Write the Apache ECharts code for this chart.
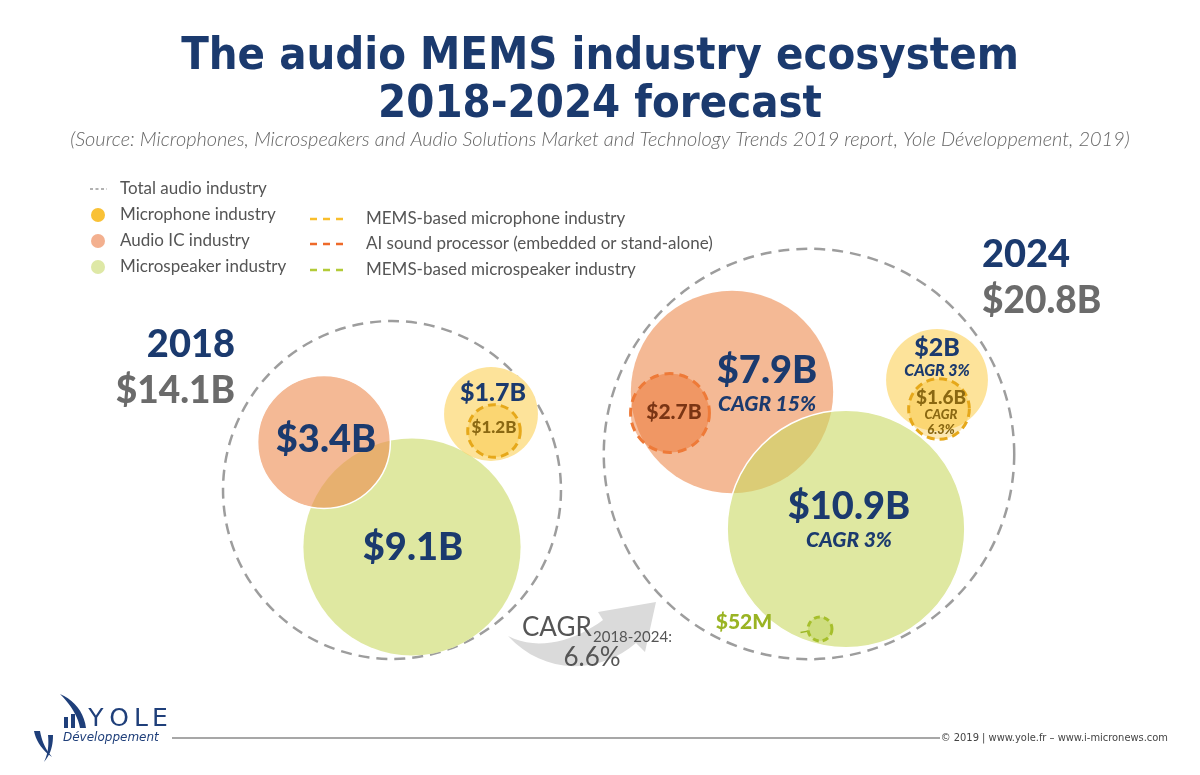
<!DOCTYPE html>
<html><head><meta charset="utf-8">
<script src="https://cdn.jsdelivr.net/npm/echarts@6/dist/echarts.min.js"></script>
<style>html,body{margin:0;padding:0;background:#fff}#chart{width:1200px;height:775px}</style>
</head><body><div id="chart"></div>
<script>
// ---------------- data (US$ billions) ----------------
const years            = ['2018', '2024'];
const totalAudio       = [14.1, 20.8];
const audioIC          = [3.4, 7.9];
const microspeaker     = [9.1, 10.9];
const microphone       = [1.7, 2.0];
const memsMicrophone   = [1.2, 1.6];
const aiSoundProcessor = [null, 2.7];
const memsMicrospeaker = [null, 0.052];
const cagrAudioIC = 15, cagrMicrospeaker = 3, cagrMicrophone = 3, cagrMemsMic = 6.3, cagrTotal = 6.6;

// ---------------- layout (bubble centres in a canvas-sized layout space) ----------------
const centre = {
  total:   [[392, 490], [809, 454]],
  audioIC: [[324, 442], [732, 392]],
  speaker: [[412, 547], [846, 529]],
  mic:     [[491, 414], [937, 380]],
  memsMic: [[494, 431], [939, 409]],
  ai:      [null, [670, 413]],
  memsSpk: [null, [820, 629]]
};
const SCALE = { total: 45, industry: 36, segment: 24 };   // px radius per sqrt($B)
function diam(v, tier) { return 2 * Math.max(12, SCALE[tier] * Math.sqrt(v)); }
function money(v) { return v < 1 ? '$' + Math.round(v * 1000) + 'M' : '$' + (Number.isInteger(v) ? v : v.toFixed(1)) + 'B'; }

const NAVY = '#1b3a6e';
const NUM = 'Lato, "Open Sans", sans-serif';
const TXT = 'Lato, "Open Sans", sans-serif';

function item(name, c, v, tier, style, label) {
  return { name, value: [c[0], c[1], v], symbolSize: diam(v, tier), itemStyle: Object.assign({ opacity: 1 }, style), label };
}
const richNum = {
  big:  { fontFamily: NUM, fontSize: 38, fontWeight: 900, color: NAVY, lineHeight: 36 },
  cg:   { fontFamily: NUM, fontSize: 21, fontWeight: 900, fontStyle: 'italic', color: NAVY, lineHeight: 30 },
  mid:  { fontFamily: NUM, fontSize: 25, fontWeight: 900, color: NAVY, lineHeight: 24 },
  cgs:  { fontFamily: NUM, fontSize: 16, fontWeight: 900, fontStyle: 'italic', color: NAVY, lineHeight: 22 },
  mm:   { fontFamily: NUM, fontSize: 19, fontWeight: 900, color: '#8a6812', lineHeight: 19 },
  mm2:  { fontFamily: NUM, fontSize: 17, fontWeight: 900, color: '#8a6812', lineHeight: 19 },
  mms:  { fontFamily: NUM, fontSize: 13, fontWeight: 900, fontStyle: 'italic', color: '#8a6812', lineHeight: 15 },
  ai:   { fontFamily: NUM, fontSize: 21, fontWeight: 900, color: '#7a3514' },
  sp:   { fontFamily: NUM, fontSize: 21, fontWeight: 900, color: '#9ab424' },
  yr:   { fontFamily: NUM, fontSize: 38, fontWeight: 900, color: NAVY, lineHeight: 46 },
  amt:  { fontFamily: NUM, fontSize: 37, fontWeight: 900, color: '#6b6b6b', lineHeight: 46 }
};
function lbl(text, offset, extra) {
  return Object.assign({ show: true, position: 'inside', formatter: text, offset, rich: richNum }, extra || {});
}

const topBorder = { borderColor: '#ffffff', borderWidth: 1.5 };
const colIC = 'rgba(237,138,79,0.6)', colSpk = 'rgba(202,217,98,0.6)', colMic = 'rgba(252,208,87,0.6)';

const totalsData = years.map((y, i) => item('Total audio industry ' + y, centre.total[i], totalAudio[i], 'total', {},
  lbl('{yr|' + y + '}\n{amt|' + money(totalAudio[i]) + '}', i === 0 ? [-157, -122] : [173, -176], { align: i === 0 ? 'right' : 'left' })));

const industryData = [
  item('Microspeaker 2018', centre.speaker[0], microspeaker[0], 'industry', { color: colSpk },
    lbl('{big|' + money(microspeaker[0]) + '}', [1, 1])),
  item('Audio IC 2018', centre.audioIC[0], audioIC[0], 'industry', Object.assign({ color: colIC }, topBorder),
    lbl('{big|' + money(audioIC[0]) + '}', [2, -2])),
  item('Audio IC 2024', centre.audioIC[1], audioIC[1], 'industry', { color: colIC },
    lbl('{big|' + money(audioIC[1]) + '}\n{cg|CAGR ' + cagrAudioIC + '%}', [35, -6])),
  item('Microspeaker 2024', centre.speaker[1], microspeaker[1], 'industry', Object.assign({ color: colSpk }, topBorder),
    lbl('{big|' + money(microspeaker[1]) + '}\n{cg|CAGR ' + cagrMicrospeaker + '%}', [3, -7])),
  item('Microphone 2018', centre.mic[0], microphone[0], 'industry', { color: colMic },
    lbl('{mid|' + money(microphone[0]) + '}', [2, -21])),
  item('Microphone 2024', centre.mic[1], microphone[1], 'industry', { color: colMic },
    lbl('{mid|' + money(microphone[1]) + '}\n{cgs|CAGR ' + cagrMicrophone + '%}', [0, -21]))
];

const dashW = 3;
const segmentData = [
  item('MEMS microphone 2018', centre.memsMic[0], memsMicrophone[0], 'segment',
    { color: 'rgba(245,190,40,0.35)', borderColor: '#e6a81a', borderWidth: dashW, borderType: [8, 5] },
    lbl('{mm2|' + money(memsMicrophone[0]) + '}', [0, -3])),
  item('MEMS microphone 2024', centre.memsMic[1], memsMicrophone[1], 'segment',
    { color: 'rgba(245,190,40,0.35)', borderColor: '#e6a81a', borderWidth: dashW, borderType: [8, 5] },
    lbl('{mm|' + money(memsMicrophone[1]) + '}\n{mms|CAGR}\n{mms|' + cagrMemsMic + '%}', [2, 4])),
  item('AI sound processor 2024', centre.ai[1], aiSoundProcessor[1], 'segment',
    { color: 'rgba(236,110,40,0.45)', borderColor: '#ee7a38', borderWidth: dashW, borderType: [9, 6] },
    lbl('{ai|' + money(aiSoundProcessor[1]) + '}', [4, -1])),
  item('MEMS microspeaker 2024', centre.memsSpk[1], memsMicrospeaker[1], 'segment',
    { color: 'rgba(170,195,50,0.3)', borderColor: '#a6bf2c', borderWidth: dashW, borderType: [6, 4] },
    lbl('{sp|' + money(memsMicrospeaker[1]) + '}', [-76, -7]))
];
segmentData[3].labelLine = { show: true, lineStyle: { color: '#9ab424', width: 1.5 } };

const backingData = industryData.map(d => ({ value: d.value, symbolSize: d.symbolSize }));

// ---------------- decorations ----------------
function bez(p0, p1, p2, p3, n) {
  const pts = [];
  for (let k = 0; k <= n; k++) {
    const t = k / n, u = 1 - t;
    pts.push([u*u*u*p0[0] + 3*u*u*t*p1[0] + 3*u*t*t*p2[0] + t*t*t*p3[0],
              u*u*u*p0[1] + 3*u*u*t*p1[1] + 3*u*t*t*p2[1] + t*t*t*p3[1]]);
  }
  return pts;
}
const arrowPts = [].concat(
  bez([508, 636], [540, 652], [576, 640], [603, 620], 16),
  [[598, 612], [656, 602], [645, 652]],
  bez([636, 643], [600, 674], [545, 676], [508, 636], 16)
);
const swoosh1 = [].concat(bez([60, 694], [74, 700], [84, 712], [86, 728], 10), bez([80, 728], [78, 716], [70, 704], [60, 694], 10));
const swoosh2 = [].concat(bez([34, 731], [36, 742], [44, 752], [52, 757], 10), bez([52, 757], [46, 750], [42, 742], [40, 731], 10));
const swoosh3 = [].concat(bez([48, 735], [49, 745], [48, 754], [44, 762], 10), bez([44, 762], [51, 754], [53, 745], [53, 735], 10));

const legendTxt = { font: '17px ' + TXT, fill: '#555', verticalAlign: 'middle' };
function gtext(x, y, text, extra) { return { type: 'text', x, y, style: Object.assign({ text }, legendTxt, extra || {}) }; }
const LOGO = '#1f3f7a';
const graphic = [
  { type: 'line', shape: { x1: 90, y1: 189, x2: 107, y2: 189 }, style: { stroke: '#999', lineWidth: 1.5, lineDash: [3, 2.5] } },
  gtext(120, 189, 'Total audio industry'),
  { type: 'circle', shape: { cx: 98, cy: 215, r: 7 }, style: { fill: '#f9c136' } },
  gtext(120, 215, 'Microphone industry'),
  { type: 'circle', shape: { cx: 98, cy: 241, r: 7 }, style: { fill: '#f3b08f' } },
  gtext(120, 241, 'Audio IC industry'),
  { type: 'circle', shape: { cx: 98, cy: 267, r: 7 }, style: { fill: '#dee8a6' } },
  gtext(120, 267, 'Microspeaker industry'),
  { type: 'line', shape: { x1: 310, y1: 219, x2: 346, y2: 219 }, style: { stroke: '#f9be2c', lineWidth: 2.5, lineDash: [7, 6] } },
  gtext(366, 219, 'MEMS-based microphone industry'),
  { type: 'line', shape: { x1: 310, y1: 244, x2: 346, y2: 244 }, style: { stroke: '#ee6a2a', lineWidth: 2.5, lineDash: [7, 6] } },
  gtext(366, 244, 'AI sound processor (embedded or stand-alone)'),
  { type: 'line', shape: { x1: 310, y1: 270, x2: 346, y2: 270 }, style: { stroke: '#b3cb38', lineWidth: 2.5, lineDash: [7, 6] } },
  gtext(366, 270, 'MEMS-based microspeaker industry'),
  // CAGR arrow
  { type: 'polygon', z: 5, shape: { points: arrowPts }, style: { fill: '#dadada' } },
  { type: 'text', z: 6, x: 522, y: 628, style: { text: 'CAGR', font: '26px ' + TXT, fill: '#555', verticalAlign: 'middle' } },
  { type: 'text', z: 6, x: 593, y: 637, style: { text: '2018-2024:', font: '15px ' + TXT, fill: '#555', verticalAlign: 'middle' } },
  { type: 'text', z: 6, x: 592, y: 658, style: { text: cagrTotal + '%', font: '26px ' + TXT, fill: '#555', align: 'center', verticalAlign: 'middle' } },
  // footer
  { type: 'line', shape: { x1: 172, y1: 738, x2: 940, y2: 738 }, style: { stroke: '#8a8a8a', lineWidth: 1.5 } },
  { type: 'text', x: 1168, y: 738, style: { text: '© 2019 | www.yole.fr – www.i-micronews.com', font: '11px "Liberation Sans Narrow", "DejaVu Sans Condensed", sans-serif', fill: '#444', align: 'right', verticalAlign: 'middle' } },
  // logo
  { type: 'polygon', shape: { points: swoosh1 }, style: { fill: LOGO } },
  { type: 'polygon', shape: { points: swoosh2 }, style: { fill: LOGO } },
  { type: 'polygon', shape: { points: swoosh3 }, style: { fill: LOGO } },
  { type: 'rect', shape: { x: 64, y: 717, width: 4, height: 11 }, style: { fill: LOGO } },
  { type: 'rect', shape: { x: 71, y: 714, width: 4, height: 14 }, style: { fill: LOGO } },
  { type: 'text', x: 96, y: 719, style: { text: 'Y', font: '25px "DejaVu Sans", sans-serif', fill: LOGO, align: 'center', verticalAlign: 'middle' } },
  { type: 'text', x: 119, y: 719, style: { text: 'O', font: '25px "DejaVu Sans", sans-serif', fill: LOGO, align: 'center', verticalAlign: 'middle' } },
  { type: 'text', x: 141, y: 719, style: { text: 'L', font: '25px "DejaVu Sans", sans-serif', fill: LOGO, align: 'center', verticalAlign: 'middle' } },
  { type: 'text', x: 160, y: 719, style: { text: 'E', font: '25px "DejaVu Sans", sans-serif', fill: LOGO, align: 'center', verticalAlign: 'middle' } },
  { type: 'text', x: 63, y: 738, style: { text: 'Développement', font: 'italic 12px "DejaVu Sans", sans-serif', fill: LOGO, verticalAlign: 'middle' } }
];

const titleFont = { fontFamily: '"DejaVu Sans Condensed", "DejaVu Sans", sans-serif', fontWeight: 'bold', fontSize: 45, color: NAVY };
const chart = echarts.init(document.getElementById('chart'));
chart.setOption({
  animation: false,
  backgroundColor: '#ffffff',
  title: [
    { text: 'The audio MEMS industry ecosystem', left: 'center', top: 35, padding: 0, textStyle: titleFont },
    { text: '2018-2024 forecast', left: 'center', top: 83, padding: 0, textStyle: titleFont },
    { text: '(Source: Microphones, Microspeakers and Audio Solutions Market and Technology Trends 2019 report, Yole Développement, 2019)',
      left: 'center', top: 130, padding: 0, textStyle: { fontFamily: TXT, fontStyle: 'italic', fontWeight: 300, fontSize: 20, color: '#666' } }
  ],
  grid: { left: 0, right: 0, top: 0, bottom: 0 },
  xAxis: { type: 'value', min: 0, max: 1200, show: false },
  yAxis: { type: 'value', min: 0, max: 775, inverse: true, show: false },
  graphic,
  series: [
    { name: 'Total audio industry', type: 'scatter', z: 1, silent: true, data: totalsData,
      itemStyle: { opacity: 1, color: 'rgba(0,0,0,0)', borderColor: '#9d9d9d', borderWidth: 2.5, borderType: [11, 7] } },
    { name: 'backing', type: 'scatter', z: 2, silent: true, data: backingData, itemStyle: { opacity: 1, color: '#ffffff' } },
    { name: 'Industries', type: 'scatter', z: 3, silent: true, data: industryData, itemStyle: { opacity: 1 } },
    { name: 'Segments', type: 'scatter', z: 4, silent: true, data: segmentData, itemStyle: { opacity: 1 } }
  ]
});
</script></body></html>
